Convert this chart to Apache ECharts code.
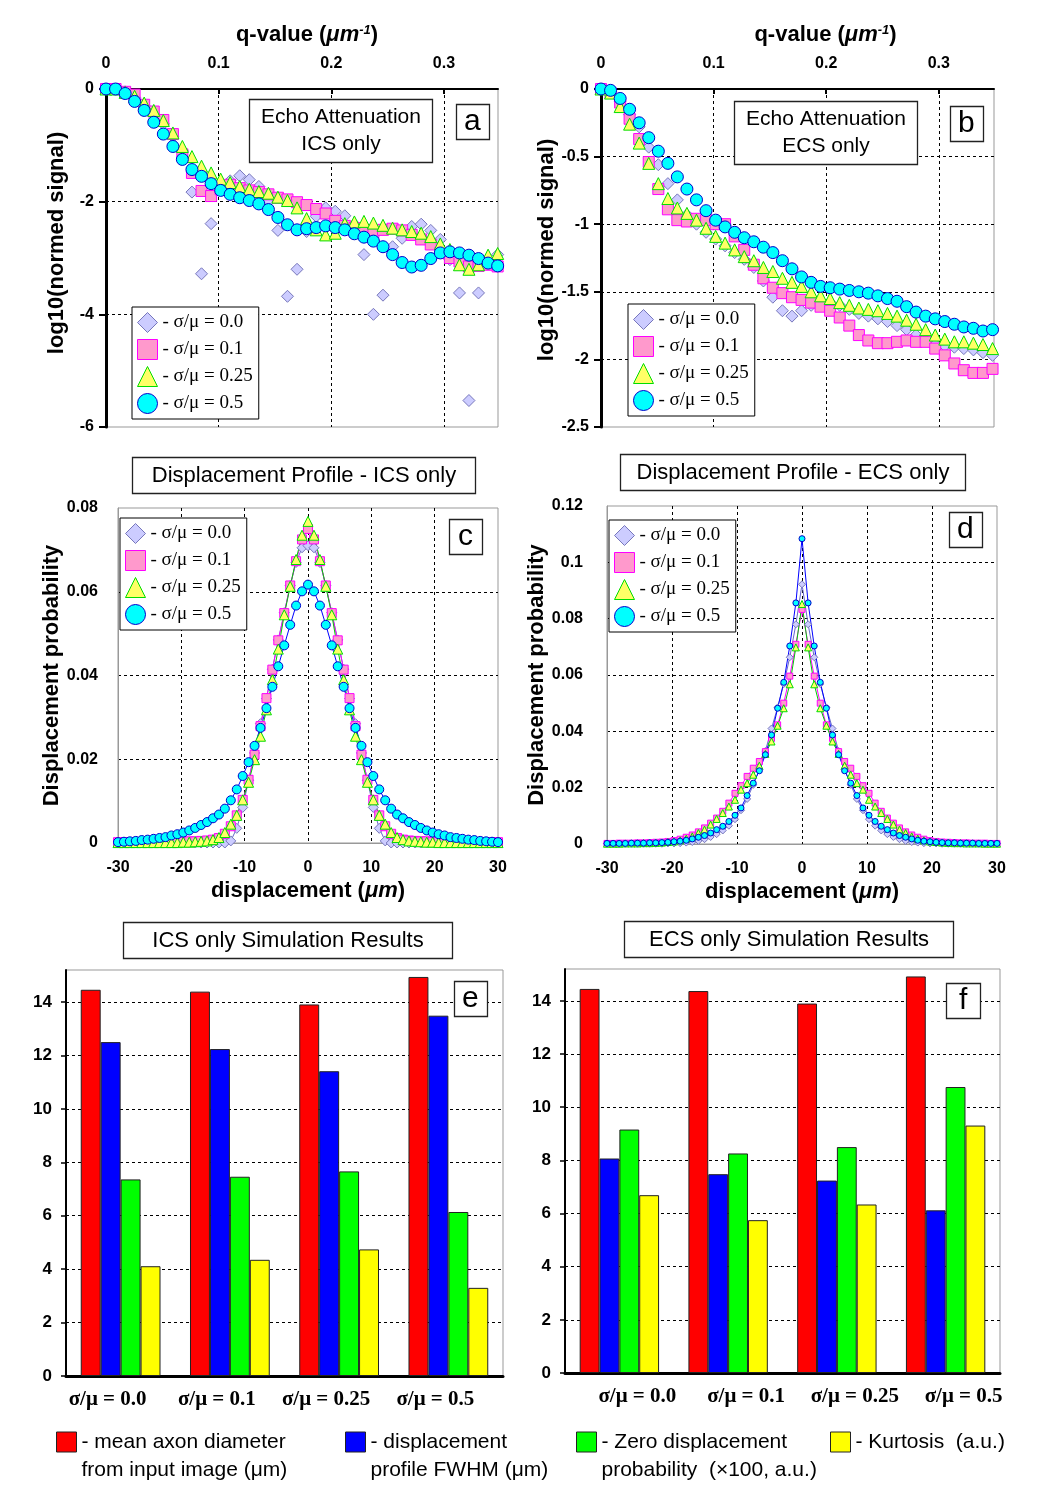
<!DOCTYPE html>
<html>
<head>
<meta charset="utf-8">
<title>Echo attenuation, displacement profiles and simulation results</title>
<style>
  html, body { margin: 0; padding: 0; background: #fff; }
  #main { width: 1050px; height: 1500px; }
</style>
</head>
<body>
<div id="main"></div>
<script src="https://cdn.jsdelivr.net/npm/echarts@6/dist/echarts.min.js"></script>
<script>
var sans = 'Liberation Sans, Arial, sans-serif';
var serif = 'Liberation Serif, Times New Roman, serif';

// sigma/mu ratios (one series each in panels a-d)
var ratios = ['0.0', '0.1', '0.25', '0.5'];

// ---- panels a / b : echo attenuation vs q ----
var qValues = [0, 0.0085, 0.017, 0.0254, 0.0339, 0.0424, 0.0509, 0.0594, 0.0678, 0.0763, 0.0848, 0.0933, 0.1018, 0.1102, 0.1187, 0.1272, 0.1357, 0.1442, 0.1526, 0.1611, 0.1696, 0.1781, 0.1866, 0.195, 0.2035, 0.212, 0.2205, 0.229, 0.2374, 0.2459, 0.2544, 0.2629, 0.2714, 0.2798, 0.2883, 0.2968, 0.3053, 0.3138, 0.3222, 0.3307, 0.3392, 0.3477];

var echoICS_00 = [0, 0, -0.05, -0.15, -0.3, -0.45, -0.62, -0.85, -1.1, -1.83, -3.28, -2.39, -1.72, -1.63, -1.54, -1.61, -1.73, -2.0, -2.51, -3.68, -3.2, -2.53, -2.26, -2.11, -2.17, -2.25, -2.4, -2.94, -4.0, -3.66, -2.8, -2.65, -2.44, -2.4, -2.51, -2.67, -3.03, -3.62, -5.53, -3.62, -3.05, -2.94];
var echoICS_01 = [0, 0, -0.05, -0.1, -0.28, -0.4, -0.55, -0.8, -1.16, -1.49, -1.81, -1.9, -1.78, -1.7, -1.76, -1.8, -1.83, -1.87, -1.93, -1.96, -2.01, -2.06, -2.13, -2.21, -2.34, -2.43, -2.47, -2.5, -2.54, -2.5, -2.48, -2.51, -2.59, -2.67, -2.76, -2.91, -3.0, -3.06, -3.15, -3.14, -3.12, -3.15];
var echoICS_025 = [0, 0, -0.06, -0.13, -0.25, -0.38, -0.56, -0.78, -1.02, -1.2, -1.37, -1.49, -1.6, -1.66, -1.73, -1.78, -1.82, -1.85, -1.92, -1.98, -2.11, -2.3, -2.5, -2.59, -2.56, -2.39, -2.36, -2.35, -2.38, -2.42, -2.47, -2.5, -2.53, -2.56, -2.62, -2.75, -2.85, -3.12, -3.2, -3.12, -2.95, -2.92];
var echoICS_05 = [0, 0, -0.08, -0.22, -0.38, -0.59, -0.8, -1.02, -1.25, -1.43, -1.55, -1.68, -1.8, -1.87, -1.93, -1.98, -2.04, -2.14, -2.28, -2.41, -2.5, -2.48, -2.46, -2.43, -2.46, -2.5, -2.57, -2.63, -2.7, -2.8, -2.94, -3.08, -3.16, -3.13, -3.01, -2.91, -2.89, -2.91, -2.95, -3.01, -3.09, -3.14];

var echoECS_00 = [0, -0.02, -0.09, -0.19, -0.28, -0.43, -0.56, -0.7, -0.82, -0.93, -1.0, -1.06, -1.11, -1.16, -1.21, -1.26, -1.32, -1.42, -1.54, -1.64, -1.68, -1.64, -1.6, -1.58, -1.58, -1.6, -1.63, -1.66, -1.68, -1.7, -1.72, -1.75, -1.78, -1.82, -1.86, -1.89, -1.9, -1.91, -1.92, -1.93, -1.95, -1.97];
var echoECS_01 = [0, -0.03, -0.1, -0.22, -0.37, -0.54, -0.74, -0.89, -0.97, -0.98, -0.96, -0.97, -1.0, -1.0, -1.09, -1.19, -1.3, -1.4, -1.47, -1.51, -1.54, -1.56, -1.58, -1.61, -1.64, -1.69, -1.75, -1.82, -1.86, -1.88, -1.88, -1.87, -1.86, -1.87, -1.87, -1.92, -1.97, -2.03, -2.08, -2.1, -2.1, -2.07];
var echoECS_025 = [0, -0.03, -0.13, -0.26, -0.4, -0.55, -0.7, -0.81, -0.88, -0.92, -0.97, -1.03, -1.09, -1.14, -1.19, -1.24, -1.27, -1.32, -1.35, -1.4, -1.43, -1.46, -1.5, -1.53, -1.55, -1.58, -1.6, -1.62, -1.63, -1.64, -1.66, -1.68, -1.71, -1.74, -1.78, -1.82, -1.85, -1.87, -1.87, -1.88, -1.89, -1.92];
var echoECS_05 = [0, -0.01, -0.07, -0.15, -0.25, -0.36, -0.46, -0.55, -0.65, -0.74, -0.82, -0.9, -0.97, -1.02, -1.06, -1.1, -1.13, -1.17, -1.21, -1.27, -1.33, -1.39, -1.43, -1.46, -1.47, -1.48, -1.49, -1.5, -1.51, -1.53, -1.55, -1.57, -1.61, -1.65, -1.68, -1.7, -1.72, -1.74, -1.76, -1.77, -1.79, -1.78];

// ---- panels c / d : displacement profiles ----
var dispValues = [-30, -29.06, -28.13, -27.19, -26.25, -25.31, -24.38, -23.44, -22.5, -21.56, -20.63, -19.69, -18.75, -17.81, -16.88, -15.94, -15, -14.06, -13.13, -12.19, -11.25, -10.31, -9.38, -8.44, -7.5, -6.56, -5.63, -4.69, -3.75, -2.81, -1.88, -0.94, 0, 0.94, 1.88, 2.81, 3.75, 4.69, 5.63, 6.56, 7.5, 8.44, 9.38, 10.31, 11.25, 12.19, 13.13, 14.06, 15, 15.94, 16.88, 17.81, 18.75, 19.69, 20.63, 21.56, 22.5, 23.44, 24.38, 25.31, 26.25, 27.19, 28.13, 29.06, 30];

var profICS_00 = [0, 0, 0, 0, 0, 0, 0, 0, 0, 0, 0, 0, 0, 0, 0, 0, 0, 0, 0, 0.0005, 0.0035, 0.0085, 0.015, 0.0215, 0.0285, 0.0345, 0.0415, 0.0485, 0.055, 0.0615, 0.067, 0.0705, 0.071, 0.0705, 0.067, 0.0615, 0.055, 0.0485, 0.0415, 0.0345, 0.0285, 0.0215, 0.015, 0.0085, 0.0035, 0.0005, 0, 0, 0, 0, 0, 0, 0, 0, 0, 0, 0, 0, 0, 0, 0, 0, 0, 0, 0];
var profICS_01 = [0.0002, 0.0002, 0.0002, 0.0002, 0.0002, 0.0002, 0.0002, 0.0002, 0.0002, 0.0003, 0.0003, 0.0003, 0.0004, 0.0004, 0.0005, 0.0006, 0.0008, 0.0012, 0.0022, 0.004, 0.0066, 0.0103, 0.0151, 0.0211, 0.0279, 0.0346, 0.0414, 0.0484, 0.0549, 0.0615, 0.0673, 0.0725, 0.075, 0.0725, 0.0673, 0.0615, 0.0549, 0.0484, 0.0414, 0.0346, 0.0279, 0.0211, 0.0151, 0.0103, 0.0066, 0.004, 0.0022, 0.0012, 0.0008, 0.0006, 0.0005, 0.0004, 0.0004, 0.0003, 0.0003, 0.0003, 0.0002, 0.0002, 0.0002, 0.0002, 0.0002, 0.0002, 0.0002, 0.0002, 0.0002];
var profICS_025 = [0.0001, 0.0001, 0.0001, 0.0001, 0.0001, 0.0001, 0.0001, 0.0001, 0.0001, 0.0001, 0.0001, 0.0002, 0.0002, 0.0003, 0.0004, 0.0005, 0.0008, 0.0013, 0.0025, 0.0045, 0.0066, 0.0103, 0.0145, 0.0199, 0.0255, 0.0318, 0.039, 0.0463, 0.0545, 0.0613, 0.0677, 0.0735, 0.0768, 0.0735, 0.0677, 0.0613, 0.0545, 0.0463, 0.039, 0.0318, 0.0255, 0.0199, 0.0145, 0.0103, 0.0066, 0.0045, 0.0025, 0.0013, 0.0008, 0.0005, 0.0004, 0.0003, 0.0002, 0.0002, 0.0001, 0.0001, 0.0001, 0.0001, 0.0001, 0.0001, 0.0001, 0.0001, 0.0001, 0.0001, 0.0001];
var profICS_05 = [0.0002, 0.0003, 0.0004, 0.0005, 0.0007, 0.0008, 0.001, 0.0012, 0.0014, 0.0018, 0.0021, 0.0025, 0.003, 0.0036, 0.0043, 0.005, 0.0059, 0.0068, 0.0082, 0.0102, 0.0128, 0.016, 0.0193, 0.0232, 0.0275, 0.0322, 0.0373, 0.0422, 0.0472, 0.0521, 0.0567, 0.0601, 0.0617, 0.0601, 0.0567, 0.0521, 0.0472, 0.0422, 0.0373, 0.0322, 0.0275, 0.0232, 0.0193, 0.016, 0.0128, 0.0102, 0.0082, 0.0068, 0.0059, 0.005, 0.0043, 0.0036, 0.003, 0.0025, 0.0021, 0.0018, 0.0014, 0.0012, 0.001, 0.0008, 0.0007, 0.0005, 0.0004, 0.0003, 0.0002];

var profECS_00 = [0.0001, 0.0001, 0.0001, 0.0001, 0.0001, 0.0001, 0.0001, 0.0001, 0.0001, 0.0001, 0.0002, 0.0002, 0.0003, 0.0005, 0.0007, 0.0011, 0.0017, 0.0025, 0.0035, 0.0048, 0.0065, 0.0088, 0.012, 0.016, 0.021, 0.0265, 0.033, 0.041, 0.0485, 0.0568, 0.0663, 0.078, 0.0922, 0.078, 0.0663, 0.0568, 0.0485, 0.041, 0.033, 0.0265, 0.021, 0.016, 0.012, 0.0088, 0.0065, 0.0048, 0.0035, 0.0025, 0.0017, 0.0011, 0.0007, 0.0005, 0.0003, 0.0002, 0.0002, 0.0001, 0.0001, 0.0001, 0.0001, 0.0001, 0.0001, 0.0001, 0.0001, 0.0001, 0.0001];
var profECS_01 = [0.0002, 0.0002, 0.0003, 0.0003, 0.0003, 0.0004, 0.0004, 0.0005, 0.0006, 0.0007, 0.0009, 0.0012, 0.0017, 0.0024, 0.0032, 0.0043, 0.0057, 0.0074, 0.0092, 0.0116, 0.0145, 0.018, 0.0207, 0.024, 0.0269, 0.0293, 0.0328, 0.0375, 0.0423, 0.05, 0.0596, 0.0709, 0.0833, 0.0709, 0.0596, 0.05, 0.0423, 0.0375, 0.0328, 0.0293, 0.0269, 0.024, 0.0207, 0.018, 0.0145, 0.0116, 0.0092, 0.0074, 0.0057, 0.0043, 0.0032, 0.0024, 0.0017, 0.0012, 0.0009, 0.0007, 0.0006, 0.0005, 0.0004, 0.0004, 0.0003, 0.0003, 0.0003, 0.0002, 0.0002];
var profECS_025 = [0.0001, 0.0001, 0.0001, 0.0002, 0.0002, 0.0002, 0.0003, 0.0003, 0.0004, 0.0005, 0.0007, 0.0009, 0.0013, 0.0019, 0.0027, 0.0039, 0.0051, 0.0069, 0.0089, 0.011, 0.0133, 0.0157, 0.0193, 0.0216, 0.0246, 0.0278, 0.032, 0.0364, 0.042, 0.0482, 0.0567, 0.0698, 0.0852, 0.0698, 0.0567, 0.0482, 0.042, 0.0364, 0.032, 0.0278, 0.0246, 0.0216, 0.0193, 0.0157, 0.0133, 0.011, 0.0089, 0.0069, 0.0051, 0.0039, 0.0027, 0.0019, 0.0013, 0.0009, 0.0007, 0.0005, 0.0004, 0.0003, 0.0003, 0.0002, 0.0002, 0.0002, 0.0001, 0.0001, 0.0001];
var profECS_05 = [0.0002, 0.0002, 0.0002, 0.0002, 0.0003, 0.0003, 0.0003, 0.0004, 0.0004, 0.0005, 0.0006, 0.0008, 0.001, 0.0013, 0.0018, 0.0024, 0.003, 0.0039, 0.0051, 0.0063, 0.008, 0.0102, 0.0128, 0.0172, 0.0216, 0.026, 0.0317, 0.0387, 0.0482, 0.0574, 0.0703, 0.0856, 0.1084, 0.0856, 0.0703, 0.0574, 0.0482, 0.0387, 0.0317, 0.026, 0.0216, 0.0172, 0.0128, 0.0102, 0.008, 0.0063, 0.0051, 0.0039, 0.003, 0.0024, 0.0018, 0.0013, 0.001, 0.0008, 0.0006, 0.0005, 0.0004, 0.0004, 0.0003, 0.0003, 0.0003, 0.0002, 0.0002, 0.0002, 0.0002];

// ---- panels e / f : simulation results ----
var barCategories = ['σ/μ = 0.0', 'σ/μ = 0.1', 'σ/μ = 0.25', 'σ/μ = 0.5'];
var icsDiameter = [14.46, 14.39, 13.91, 14.94];
var icsFwhm = [12.5, 12.24, 11.41, 13.49];
var icsZeroProb = [7.36, 7.46, 7.66, 6.14];
var icsKurtosis = [4.11, 4.35, 4.74, 3.3];
var ecsDiameter = [14.45, 14.37, 13.9, 14.92];
var ecsFwhm = [8.07, 7.48, 7.24, 6.12];
var ecsZeroProb = [9.16, 8.26, 8.5, 10.76];
var ecsKurtosis = [6.69, 5.75, 6.34, 9.31];

var barNames = ['diam', 'fwhm', 'zero', 'kurt'];
var barColors = ['#ff0000', '#0000ff', '#00ff00', '#ffff00'];
var barLegendText = [
  ['- mean axon diameter', 'from input image (μm)'],
  ['- displacement', 'profile FWHM (μm)'],
  ['- Zero displacement', 'probability  (×100, a.u.)'],
  ['- Kurtosis  (a.u.)']
];

var markers = [
  { symbol: 'diamond', color: '#ccccff', border: '#7777bb', line: '#6666cc' },
  { symbol: 'rect', color: '#ff99cc', border: '#ff00ff', line: '#ff00ff' },
  { symbol: 'triangle', color: '#ffff66', border: '#00dd00', line: '#00cc00' },
  { symbol: 'circle', color: '#00ffff', border: '#0000cc', line: '#0000ff' }
];

function pairs(xs, ys) {
  return xs.map(function (x, i) { return [x, ys[i]]; });
}

var dashed = { show: true, showMinLine: false, showMaxLine: false, lineStyle: { color: '#000', width: 1, type: [3, 3] } };

function tickLabel(size, margin) {
  return { fontFamily: sans, fontWeight: 'bold', fontSize: size, color: '#000', margin: margin };
}

function nameStyle(padding) {
  return {
    fontFamily: sans, fontWeight: 'bold', fontSize: 22, color: '#000', padding: padding,
    rich: {
      it: { fontFamily: sans, fontWeight: 'bold', fontStyle: 'italic', fontSize: 22, color: '#000' },
      sup: { fontFamily: sans, fontWeight: 'bold', fontStyle: 'italic', fontSize: 13, color: '#000', verticalAlign: 'top' }
    }
  };
}

function echoSeries(panel, gi, lists) {
  var sizes = [12, 11, 12, 12];
  return lists.map(function (ys, i) {
    var m = markers[i];
    return {
      name: panel + ':' + ratios[i], type: 'scatter', xAxisIndex: gi, yAxisIndex: gi,
      symbol: m.symbol, symbolSize: sizes[i], silent: true,
      itemStyle: { color: m.color, borderColor: m.border, borderWidth: 1, opacity: 1 },
      data: pairs(qValues, ys)
    };
  });
}

function profileSeries(panel, gi, lists, sizes) {
  return lists.map(function (ys, i) {
    var m = markers[i];
    return {
      name: panel + ':' + ratios[i], type: 'line', xAxisIndex: gi, yAxisIndex: gi,
      symbol: m.symbol, symbolSize: sizes[i], showSymbol: true, showAllSymbol: true, silent: true,
      lineStyle: { color: m.line, width: 1 },
      itemStyle: { color: m.color, borderColor: m.border, borderWidth: 1 },
      data: pairs(dispValues, ys)
    };
  });
}

function barSeries(gi, lists) {
  return lists.map(function (vals, i) {
    return {
      name: barNames[i], type: 'bar', xAxisIndex: gi, yAxisIndex: gi, silent: true,
      barGap: '0%', barCategoryGap: '27%',
      itemStyle: { color: barColors[i], borderColor: '#222', borderWidth: 1 },
      data: vals
    };
  });
}

function ratioLegend(panel, left, top) {
  return {
    left: left, top: top, orient: 'vertical', selectedMode: false,
    itemWidth: 20, itemHeight: 20, itemGap: 6, padding: [5, 6, 5, 5],
    backgroundColor: '#fff', borderColor: '#000', borderWidth: 1,
    itemStyle: { borderWidth: 1 },
    data: ratios.map(function (r, i) { return { name: panel + ':' + r, icon: markers[i].symbol }; }),
    formatter: function (name) { return '- σ/μ = ' + name.split(':')[1]; },
    textStyle: { fontFamily: serif, fontSize: 19, color: '#000' }
  };
}

// legend text is centred on the icon, so a blank first line puts
// the first real line level with the square
function barLegend(i, left) {
  var lines = barLegendText[i];
  var twoLines = lines.length > 1;
  return {
    left: left, top: twoLines ? 1400 : 1428, padding: 0, selectedMode: false,
    itemWidth: 20, itemHeight: 20, itemStyle: { borderWidth: 1 },
    data: [{ name: barNames[i], icon: 'rect' }],
    formatter: function () { return twoLines ? ' \n' + lines.join('\n') : lines[0]; },
    textStyle: { fontFamily: sans, fontSize: 21, color: '#000', lineHeight: 28 }
  };
}

function boxText(text, left, top, size, lh, pad, align) {
  return {
    text: text, left: left, top: top, textAlign: align, textVerticalAlign: 'top',
    padding: pad, itemGap: 0, backgroundColor: '#fff', borderColor: '#222', borderWidth: 1.3,
    textStyle: { fontFamily: sans, fontWeight: 'normal', fontSize: size, lineHeight: lh, color: '#000' }
  };
}

function echoX(gi, max, namePad) {
  return {
    gridIndex: gi, type: 'value', position: 'top', min: 0, max: max, interval: 0.1,
    axisLine: { show: true, onZero: false, lineStyle: { color: '#000', width: 2 } },
    axisTick: { show: true, inside: true, length: 5, lineStyle: { color: '#000', width: 2 } },
    axisLabel: Object.assign(tickLabel(16, 17), { showMaxLabel: false }),
    splitLine: dashed,
    name: 'q-value ({it|μm}{sup|-1})', nameLocation: 'middle', nameGap: 43, nameTextStyle: nameStyle(namePad)
  };
}

function echoY(gi, min, interval, gap, namePad) {
  return {
    gridIndex: gi, type: 'value', min: min, max: 0, interval: interval,
    axisLine: { show: true, onZero: false, lineStyle: { color: '#000', width: 3 } },
    axisTick: { show: true, length: 7, lineStyle: { color: '#000', width: 2 } },
    axisLabel: tickLabel(16, 12),
    splitLine: dashed,
    name: 'log10(normed signal)', nameLocation: 'middle', nameGap: gap, nameTextStyle: nameStyle(namePad)
  };
}

function profX(gi) {
  return {
    gridIndex: gi, type: 'value', min: -30, max: 30, interval: 10,
    axisLine: { show: true, onZero: false, lineStyle: { color: '#999', width: 1 } },
    axisTick: { show: false },
    axisLabel: tickLabel(16, 17),
    splitLine: dashed,
    name: 'displacement ({it|μm})', nameLocation: 'middle', nameGap: 37, nameTextStyle: nameStyle(0)
  };
}

function profY(gi, max, margin) {
  return {
    gridIndex: gi, type: 'value', min: 0, max: max, interval: 0.02,
    axisLine: { show: true, onZero: false, lineStyle: { color: '#999', width: 1 } },
    axisTick: { show: false },
    axisLabel: tickLabel(16, margin),
    splitLine: dashed,
    name: 'Displacement probability', nameLocation: 'middle', nameGap: 53, nameTextStyle: nameStyle(0)
  };
}

function barX(gi, labelPad) {
  return {
    gridIndex: gi, type: 'category', data: barCategories,
    axisLine: { show: true, lineStyle: { color: '#000', width: 3 } },
    axisTick: { show: false },
    axisLabel: { fontFamily: serif, fontWeight: 'bold', fontSize: 21, color: '#000', margin: 13, padding: labelPad, interval: 0 }
  };
}

function barY(gi) {
  return {
    gridIndex: gi, type: 'value', min: 0, max: 15.2, interval: 2,
    axisLine: { show: true, onZero: false, lineStyle: { color: '#000', width: 2 } },
    axisTick: { show: true, length: 5, lineStyle: { color: '#000', width: 1.5 } },
    axisLabel: Object.assign(tickLabel(17, 14), { showMaxLabel: false }),
    splitLine: dashed
  };
}

var gridBox = { show: true, borderColor: '#999', borderWidth: 1, backgroundColor: 'transparent', containLabel: false };

var chart = echarts.init(document.getElementById('main'));

chart.setOption({
  animation: false,
  backgroundColor: '#fff',
  title: [
    boxText('Echo Attenuation\nICS only', 329, 99, 21, 27, [5, 12, 5, 12], 'center'),
    boxText('Echo Attenuation\nECS only', 814, 101, 21, 27, [5, 12, 5, 12], 'center'),
    boxText('a', 456, 104, 30, 30, [3, 9, 3, 8], 'left'),
    boxText('b', 950, 106, 30, 30, [3, 9, 3, 8], 'left'),
    boxText('c', 449, 519, 30, 30, [3, 10, 3, 9], 'left'),
    boxText('d', 949, 512, 30, 30, [3, 9, 3, 8], 'left'),
    boxText('e', 454, 981, 30, 30, [3, 9, 3, 8], 'left'),
    boxText('f', 946, 983, 30, 30, [3, 13, 3, 13], 'left'),
    boxText('Displacement Profile - ICS only', 284, 457, 22, 27, [5, 20, 5, 20], 'center'),
    boxText('Displacement Profile - ECS only', 777, 454, 22, 27, [5, 16, 5, 16], 'center'),
    boxText('ICS only Simulation Results', 259, 922, 22, 27, [5, 29, 5, 29], 'center'),
    boxText('ECS only Simulation Results', 764, 921, 22, 27, [5, 25, 5, 25], 'center')
  ],
  legend: [
    ratioLegend('a', 132, 307),
    ratioLegend('b', 628, 304),
    ratioLegend('c', 120, 518),
    ratioLegend('d', 609, 520),
    barLegend(0, 56),
    barLegend(1, 345),
    barLegend(2, 576),
    barLegend(3, 830)
  ],
  grid: [
    Object.assign({ left: 106, top: 89, width: 392, height: 338 }, gridBox),
    Object.assign({ left: 601, top: 89, width: 393, height: 338 }, gridBox),
    Object.assign({ left: 118, top: 508, width: 380, height: 335 }, gridBox),
    Object.assign({ left: 607, top: 506, width: 390, height: 338 }, gridBox),
    Object.assign({ left: 66, top: 970, width: 437, height: 406 }, gridBox),
    Object.assign({ left: 565, top: 969, width: 435, height: 404 }, gridBox)
  ],
  xAxis: [
    echoX(0, 0.348, [0, 0, 0, 10]),
    echoX(1, 0.349, [0, 0, 0, 56]),
    profX(2),
    profX(3),
    barX(4, [0, 26, 0, 0]),
    barX(5, [0, 0, 0, 36])
  ],
  yAxis: [
    echoY(0, -6, 2, 38, [0, 0, 0, 30]),
    echoY(1, -2.5, 0.5, 39, [0, 0, 0, 16]),
    profY(2, 0.08, 20),
    profY(3, 0.12, 24),
    barY(4),
    barY(5)
  ],
  series: [].concat(
    echoSeries('a', 0, [echoICS_00, echoICS_01, echoICS_025, echoICS_05]),
    echoSeries('b', 1, [echoECS_00, echoECS_01, echoECS_025, echoECS_05]),
    profileSeries('c', 2, [profICS_00, profICS_01, profICS_025, profICS_05], [10, 9, 10, 9]),
    profileSeries('d', 3, [profECS_00, profECS_01, profECS_025, profECS_05], [7, 6, 7, 6]),
    barSeries(4, [icsDiameter, icsFwhm, icsZeroProb, icsKurtosis]),
    barSeries(5, [ecsDiameter, ecsFwhm, ecsZeroProb, ecsKurtosis])
  )
});
</script>
</body>
</html>
